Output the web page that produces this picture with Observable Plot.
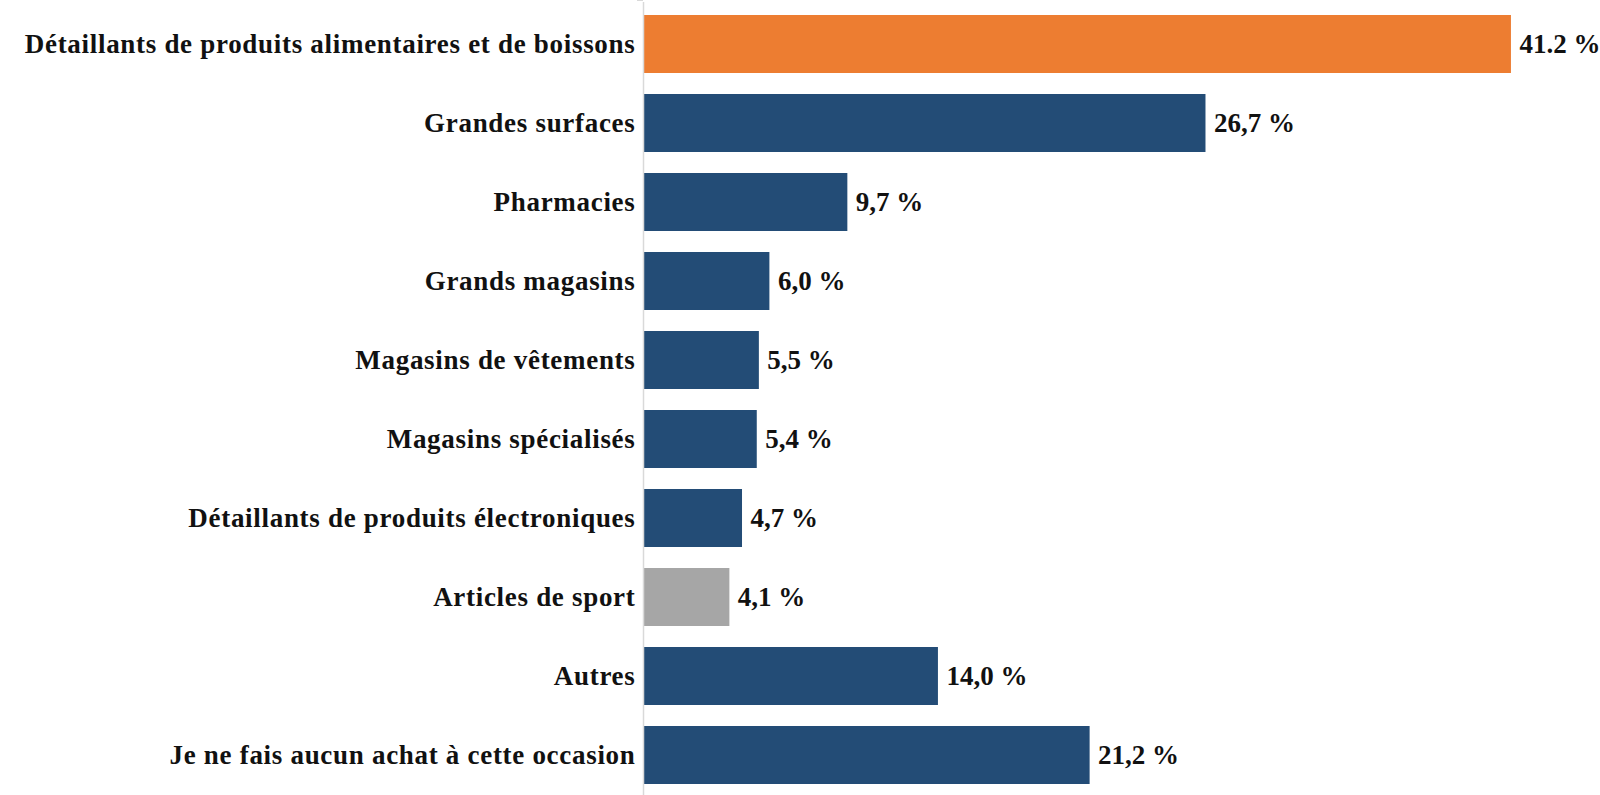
<!DOCTYPE html>
<html>
<head>
<meta charset="utf-8">
<script src="https://cdn.jsdelivr.net/npm/d3@7"></script>
<script src="https://cdn.jsdelivr.net/npm/@observablehq/plot@0.6"></script>
<style>
  html, body { margin: 0; padding: 0; background: #fff; }
  #chart svg { display: block; }
</style>
</head>
<body>
<div id="chart"></div>
<script>
const categories = [
  "Détaillants de produits alimentaires et de boissons",
  "Grandes surfaces",
  "Pharmacies",
  "Grands magasins",
  "Magasins de vêtements",
  "Magasins spécialisés",
  "Détaillants de produits électroniques",
  "Articles de sport",
  "Autres",
  "Je ne fais aucun achat à cette occasion"
];
const values = [41.2, 26.7, 9.7, 6.0, 5.5, 5.4, 4.7, 4.1, 14.0, 21.2];
const valueLabels = ["41.2 %", "26,7 %", "9,7 %", "6,0 %", "5,5 %", "5,4 %", "4,7 %", "4,1 %", "14,0 %", "21,2 %"];
const barGroups = ["highlight", "base", "base", "base", "base", "base", "base", "muted", "base", "base"];

const data = categories.map((c, i) => ({category: c, value: values[i], label: valueLabels[i], group: barGroups[i]}));

// ticks at the boundaries between bands, drawn from the y scale
function boundaryTicks() {
  return (index, scales, values, dims) => {
    const y = scales.y, x = scales.x;
    const dom = categories;
    const starts = dom.map(d => y(d));
    const step = starts[1] - starts[0];
    const bw = y.bandwidth ?? step * 0.74;
    const g = d3.create("svg:g");
    for (let i = 0; i < dom.length - 1; i++) {
      const yy = (starts[i] + bw / 2 + starts[i + 1] + bw / 2) / 2;
      g.append("line")
        .attr("x1", x(0) - 6).attr("x2", x(0))
        .attr("y1", yy).attr("y2", yy)
        .attr("stroke", "#d9d9d9").attr("stroke-width", 1.5);
    }
    return g.node();
  };
}

const plot = Plot.plot({
  width: 1600,
  height: 795,
  marginLeft: 643,
  marginRight: 9,
  marginTop: 2,
  marginBottom: -3,
  style: {fontFamily: "'Liberation Serif', 'DejaVu Serif', serif", background: "#fff"},
  x: {domain: [0, 45], axis: null},
  y: {domain: categories, paddingInner: 0.26, paddingOuter: 0.13, label: null, axis: null},
  color: {domain: ["highlight", "base", "muted"], range: ["#ED7D31", "#234C76", "#A6A6A6"]},
  marks: [
    Plot.barX(data, {x: "value", y: "category", fill: "group"}),
    Plot.ruleX([0], {stroke: "#d9d9d9", strokeWidth: 1.5}),
    boundaryTicks(),
    Plot.text(data, {x: 0, y: "category", text: "category", textAnchor: "end", dx: -8,
      fontSize: 27, fontWeight: "bold", fill: "#111"}),
    Plot.text(data, {x: "value", y: "category", text: "label", textAnchor: "start", dx: 8,
      fontSize: 27, fontWeight: "bold", fill: "#111"})
  ]
});
d3.select(plot).selectAll('g[aria-label="text"]').filter((d, i) => i === 0)
  .attr("letter-spacing", "0.7px");
document.getElementById("chart").appendChild(plot);
</script>
</body>
</html>
